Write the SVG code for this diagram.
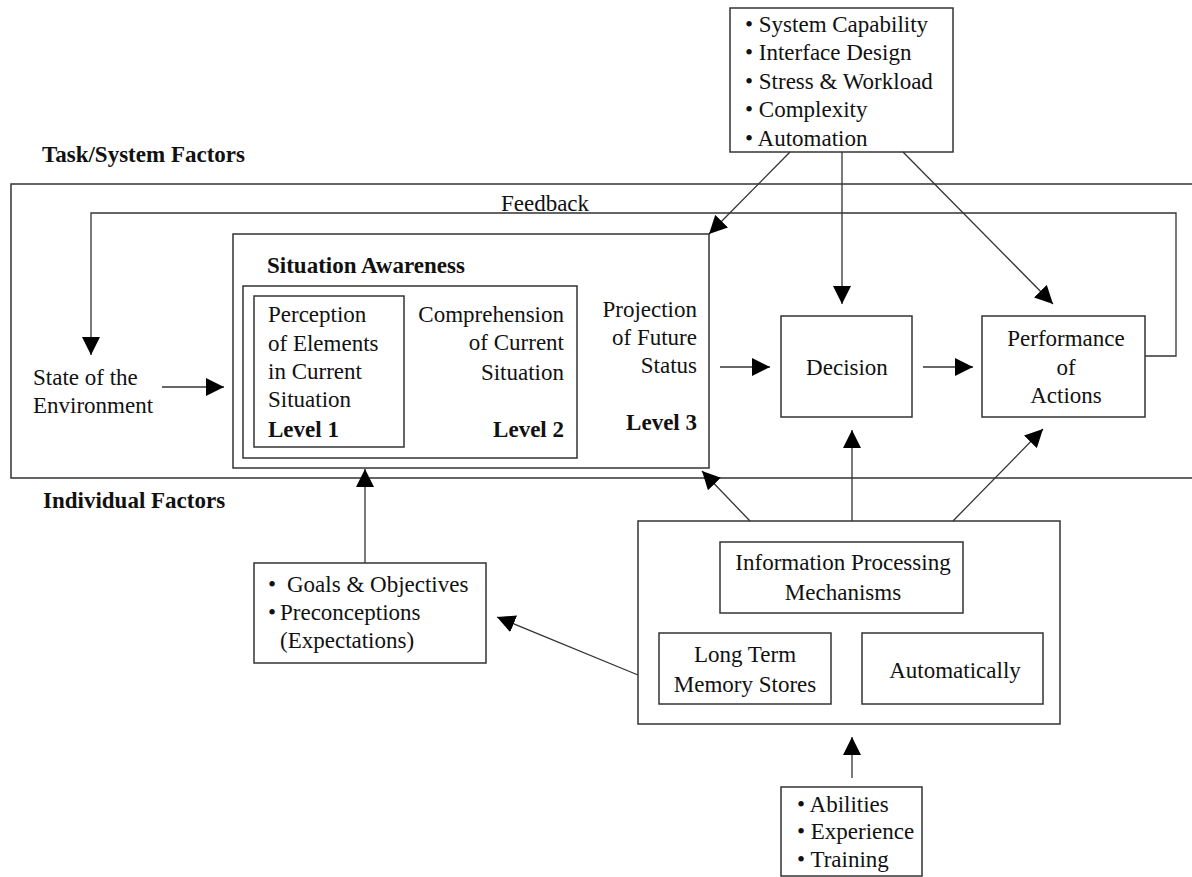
<svg xmlns="http://www.w3.org/2000/svg" width="1192" height="877" viewBox="0 0 1192 877">
<style>
text{font-family:"Liberation Serif","Times New Roman",serif;font-size:23px;fill:#111}
.b{font-weight:bold}
.m{text-anchor:middle}
.e{text-anchor:end}
.box{fill:none;stroke:#333;stroke-width:1.5}
.ln{fill:none;stroke:#333;stroke-width:1.3}
</style>
<defs>
<marker id="ah" markerUnits="userSpaceOnUse" markerWidth="19" markerHeight="18" refX="18" refY="9" orient="auto" viewBox="0 0 19 18">
<path d="M0,0 L18,9 L0,18 z" fill="#000"/>
</marker>
</defs>
<rect width="1192" height="877" fill="#fff"/>

<g id="labels">
<text class="b" x="42" y="162">Task/System Factors</text>
<text class="b" x="43" y="508">Individual Factors</text>
</g>

<g id="task-system-area">
<path class="box" d="M1194,184 H11 V478 H1194"/>
</g>

<g id="system-factors">
<rect class="box" x="730" y="8" width="223" height="144"/>
<text x="745" y="32">• System Capability</text>
<text x="745" y="60">• Interface Design</text>
<text x="745" y="89">• Stress &amp; Workload</text>
<text x="745" y="117">• Complexity</text>
<text x="745" y="146">• Automation</text>
</g>

<g id="state-environment">
<text x="33" y="385">State of the</text>
<text x="33" y="413">Environment</text>
</g>

<g id="situation-awareness">
<rect class="box" x="233" y="234" width="476" height="234"/>
<text class="b" x="267" y="273">Situation Awareness</text>
<rect class="box" x="243" y="286" width="334" height="172"/>
<text class="e" x="697" y="317">Projection</text>
<text class="e" x="697" y="345">of Future</text>
<text class="e" x="697" y="373">Status</text>
<text class="e b" x="697" y="430">Level 3</text>
<text class="e" x="564" y="322">Comprehension</text>
<text class="e" x="564" y="350">of Current</text>
<text class="e" x="564" y="380">Situation</text>
<text class="e b" x="564" y="437">Level 2</text>
</g>

<g id="level1">
<rect class="box" x="254" y="296" width="150" height="151"/>
<text x="268" y="322">Perception</text>
<text x="268" y="351">of Elements</text>
<text x="268" y="379">in Current</text>
<text x="268" y="407">Situation</text>
<text class="b" x="268" y="437">Level 1</text>
</g>

<g id="decision">
<rect class="box" x="781" y="316" width="131" height="101"/>
<text class="m" x="847" y="375">Decision</text>
</g>

<g id="performance">
<rect class="box" x="982" y="316" width="163" height="101"/>
<text class="m" x="1066" y="346">Performance</text>
<text class="m" x="1066" y="375">of</text>
<text class="m" x="1066" y="403">Actions</text>
</g>

<g id="goals">
<rect class="box" x="254" y="563" width="232" height="100"/>
<text x="268" y="592">•</text>
<text x="287" y="592">Goals &amp; Objectives</text>
<text x="268" y="620">•</text>
<text x="280" y="620">Preconceptions</text>
<text x="280" y="648">(Expectations)</text>
</g>

<g id="individual-mechanisms">
<rect class="box" x="638" y="521" width="422" height="203"/>
</g>

<g id="info-processing">
<rect class="box" x="720" y="542" width="243" height="71"/>
<text class="m" x="843" y="570">Information Processing</text>
<text class="m" x="843" y="600">Mechanisms</text>
</g>

<g id="long-term-memory">
<rect class="box" x="659" y="633" width="172" height="71"/>
<text class="m" x="745" y="662">Long Term</text>
<text class="m" x="745" y="692">Memory Stores</text>
</g>

<g id="automaticity">
<rect class="box" x="862" y="633" width="181" height="71"/>
<text class="m" x="955" y="678">Automatically</text>
</g>

<g id="abilities">
<rect class="box" x="781" y="787" width="141" height="89"/>
<text x="797" y="812">• Abilities</text>
<text x="797" y="839">• Experience</text>
<text x="797" y="867">• Training</text>
</g>

<g id="connectors">
<path class="ln" d="M1145,356 H1176 V213 H91 V355" marker-end="url(#ah)"/>
<text class="m" x="545" y="211">Feedback</text>
<line class="ln" x1="790" y1="152" x2="709" y2="234" marker-end="url(#ah)"/>
<line class="ln" x1="842" y1="152" x2="842" y2="304" marker-end="url(#ah)"/>
<line class="ln" x1="903" y1="152" x2="1053" y2="304" marker-end="url(#ah)"/>
<line class="ln" x1="162" y1="387" x2="224" y2="387" marker-end="url(#ah)"/>
<line class="ln" x1="720" y1="367" x2="770" y2="367" marker-end="url(#ah)"/>
<line class="ln" x1="923" y1="367" x2="973" y2="367" marker-end="url(#ah)"/>
<line class="ln" x1="750" y1="521" x2="702" y2="471" marker-end="url(#ah)"/>
<line class="ln" x1="852" y1="521" x2="852" y2="430" marker-end="url(#ah)"/>
<line class="ln" x1="953" y1="521" x2="1043" y2="429" marker-end="url(#ah)"/>
<line class="ln" x1="365" y1="563" x2="365" y2="469" marker-end="url(#ah)"/>
<line class="ln" x1="638" y1="675" x2="497" y2="617" marker-end="url(#ah)"/>
<line class="ln" x1="852" y1="778" x2="852" y2="737" marker-end="url(#ah)"/>
</g>
</svg>
